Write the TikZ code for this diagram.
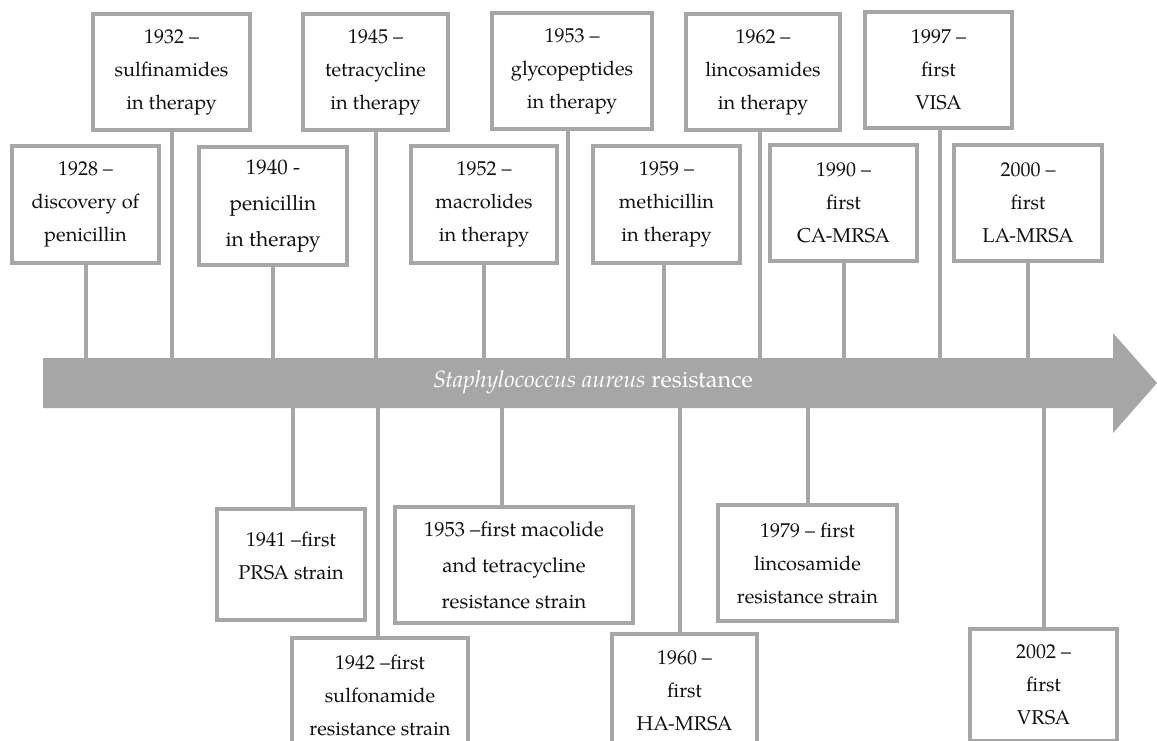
\documentclass[tikz,border=0pt]{standalone}
\usepackage{fontspec}
\setmainfont{TeX Gyre Pagella}
\definecolor{gcol}{HTML}{A6A6A6}
\definecolor{tcol}{HTML}{111111}
\begin{document}
\begin{tikzpicture}[x=1pt,y=-1pt,
  evbox/.style={draw=gcol, line width=4pt, fill=white, inner sep=0pt, align=center,
    text=tcol, font=\fontsize{20}{33}\selectfont},
  stem/.style={draw=gcol, line width=4pt},
]
\clip (0,0) rectangle (1157,741);
\fill[white] (0,0) rectangle (1157,741);

% timeline arrow
\fill[gcol] (43,358) -- (1113,358) -- (1113,333) -- (1157,383) -- (1113,433) -- (1113,408) -- (43,408) -- cycle;
\coordinate (bartop) at (43,358);
\coordinate (barbot) at (43,408);
\node[text=white, font=\fontsize{23.5}{26}\selectfont] (title) at (593,382) {\textit{Staphylococcus aureus} resistance};

% upper row
\node[evbox, minimum width=157, minimum height=116] (n1932) at (171.5,72) {1932 –\\sulfinamides\\in therapy};
\node[evbox, minimum width=145, minimum height=116] (n1945) at (375.5,72) {1945 –\\tetracycline\\in therapy};
\node[evbox, minimum width=160, minimum height=116] (n1953) at (572,71) {1953 –\\glycopeptides\\in therapy};
\node[evbox, minimum width=154, minimum height=116] (n1962) at (763,72) {1962 –\\lincosamides\\in therapy};
\node[evbox, minimum width=147, minimum height=116] (n1997) at (938.5,70) {1997 –\\first\\VISA};

% second row
\node[evbox, minimum width=147, minimum height=117] (n1928) at (85.5,204.5) {1928 –\\discovery of\\penicillin};
\node[evbox, minimum width=148, minimum height=117, font=\fontsize{21}{36}\selectfont] (n1940) at (273,206) {1940 -\\penicillin\\in therapy};
\node[evbox, minimum width=146, minimum height=117] (n1952) at (484,204.5) {1952 –\\macrolides\\in therapy};
\node[evbox, minimum width=147, minimum height=117] (n1959) at (666.5,204.5) {1959 –\\methicillin\\in therapy};
\node[evbox, minimum width=147, minimum height=116] (n1990) at (843.5,203) {1990 –\\first\\CA-MRSA};
\node[evbox, minimum width=148, minimum height=116] (n2000) at (1028,203) {2000 –\\first\\LA-MRSA};

% lower boxes
\node[evbox, minimum width=148, minimum height=111] (m1941) at (291,564.5) {1941 –first\\PRSA strain\\[-15pt]\mbox{}};
\node[evbox, minimum width=176, minimum height=115] (m1942) at (380,695.5) {1942 –first\\sulfonamide\\resistance strain};
\node[evbox, minimum width=238, minimum height=116, font=\fontsize{20.5}{36}\selectfont] (m1953) at (514,565) {1953 –first macolide\\and tetracycline\\resistance strain};
\node[evbox, minimum width=145, minimum height=113] (m1960) at (684.5,690.5) {1960 –\\first\\HA-MRSA};
\node[evbox, minimum width=179, minimum height=116] (m1979) at (807.5,563) {1979 – first\\lincosamide\\resistance strain};
\node[evbox, minimum width=147, minimum height=112] (m2002) at (1043.5,685) {2002 –\\first\\VRSA};

% stems above the bar
\draw[stem] (n1928.south) -- (n1928.south |- bartop);
\draw[stem] (n1932.south) -- (n1932.south |- bartop);
\draw[stem] (n1940.south) -- (n1940.south |- bartop);
\draw[stem] (n1945.south) -- (n1945.south |- bartop);
\draw[stem] (n1952.south) -- (n1952.south |- bartop);
\draw[stem] ([xshift=-4pt]n1953.south) -- ([xshift=-4pt]n1953.south |- bartop);
\draw[stem] ([xshift=-2.5pt]n1959.south) -- ([xshift=-2.5pt]n1959.south |- bartop);
\draw[stem] ([xshift=-3pt]n1962.south) -- ([xshift=-3pt]n1962.south |- bartop);
\draw[stem] (n1990.south) -- (n1990.south |- bartop);
\draw[stem] ([xshift=1.5pt]n1997.south) -- ([xshift=1.5pt]n1997.south |- bartop);
\draw[stem] (n2000.south) -- (n2000.south |- bartop);

% stems below the bar
\draw[stem] ([xshift=2pt]m1941.north) -- ([xshift=2pt]m1941.north |- barbot);
\draw[stem] ([xshift=-2pt]m1942.north) -- ([xshift=-2pt]m1942.north |- barbot);
\draw[stem] ([xshift=-12pt]m1953.north) -- ([xshift=-12pt]m1953.north |- barbot);
\draw[stem] ([xshift=-4.5pt]m1960.north) -- ([xshift=-4.5pt]m1960.north |- barbot);
\draw[stem] (m1979.north) -- (m1979.north |- barbot);
\draw[stem] (m2002.north) -- (m2002.north |- barbot);
\end{tikzpicture}
\end{document}
